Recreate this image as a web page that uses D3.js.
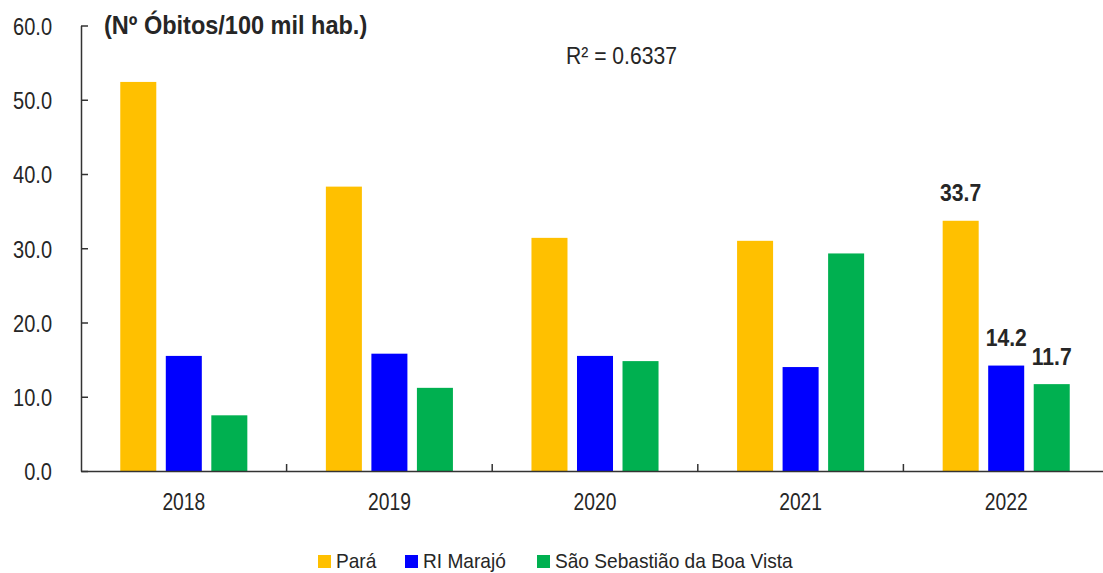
<!DOCTYPE html>
<html>
<head>
<meta charset="utf-8">
<script src="https://cdn.jsdelivr.net/npm/d3@7"></script>
<style>
  html, body { margin: 0; padding: 0; background: #fff; }
  svg { display: block; }
  text { font-family: "Liberation Sans", Arial, sans-serif; fill: #262626; }
</style>
</head>
<body>
<svg id="chart" width="1103" height="573"></svg>
<script>
// Taxa de óbitos por 100 mil habitantes
const years = ["2018", "2019", "2020", "2021", "2022"];
const seriesNames = ["Pará", "RI Marajó", "São Sebastião da Boa Vista"];
const para = [52.4, 38.3, 31.4, 31.0, 33.7];
const marajo = [15.5, 15.8, 15.5, 14.0, 14.2];
const ssbv = [7.5, 11.2, 14.8, 29.3, 11.7];
const colors = ["#FFC000", "#0000FF", "#00B050"];
const yTicks = [0, 10, 20, 30, 40, 50, 60];
const labelledYear = "2022";

const svg = d3.select("#chart");
const seriesValues = [para, marajo, ssbv];

// Narrow-looking type: squeeze each label horizontally by a factor
function condense(sel, sx) {
  sel.each(function () {
    const w = this.getComputedTextLength();
    d3.select(this).attr("textLength", w * sx).attr("lengthAdjust", "spacingAndGlyphs");
  });
}

const y = d3.scaleLinear().domain([0, 60]).range([471, 25.5]);
const x0 = d3.scaleBand().domain(years).range([81, 1109]).paddingInner(0.382).paddingOuter(0.191);
const x1 = d3.scaleBand().domain(seriesNames).range([0, x0.bandwidth()]).paddingInner(0.2088);

const rows = [];
years.forEach((yr, i) => {
  seriesNames.forEach((s, j) => {
    rows.push({ year: yr, series: s, value: seriesValues[j][i], color: colors[j] });
  });
});

// Bars
svg.append("g").selectAll("rect").data(rows).join("rect")
  .attr("x", d => x0(d.year) + x1(d.series))
  .attr("width", x1.bandwidth())
  .attr("y", d => y(d.value))
  .attr("height", d => y(0) - y(d.value))
  .attr("fill", d => d.color);

// Value labels for the last year
svg.append("g").selectAll("text").data(rows.filter(d => d.year === labelledYear)).join("text")
  .attr("x", d => x0(d.year) + x1(d.series) + x1.bandwidth() / 2)
  .attr("y", d => y(d.value) - 19.5)
  .attr("text-anchor", "middle")
  .attr("font-size", 24)
  .attr("font-weight", "bold")
  .text(d => d.value.toFixed(1))
  .call(condense, 0.88);

// Y axis
const yAxis = svg.append("g").attr("transform", "translate(81,0)")
  .call(d3.axisLeft(y).tickValues(yTicks).tickFormat(d3.format(".1f")).tickSizeInner(-7).tickSizeOuter(0).tickPadding(29));
yAxis.select(".domain").attr("stroke", "#333").attr("stroke-width", 1.5);
yAxis.selectAll(".tick line").attr("stroke", "#333").attr("stroke-width", 1.5);
yAxis.selectAll(".tick text").attr("font-size", 23).attr("font-family", null).attr("fill", "#262626")
  .attr("dy", "0.38em").call(condense, 0.87);

// X axis
const xAxis = svg.append("g").attr("transform", `translate(0,${y(0)})`)
  .call(d3.axisBottom(x0).tickSize(0).tickPadding(22));
xAxis.select(".domain").attr("stroke", "#333").attr("stroke-width", 1.5);
xAxis.selectAll(".tick text").attr("font-size", 23.5).attr("font-family", null).attr("fill", "#262626")
  .call(condense, 0.82);
// boundary ticks between categories, pointing up
const boundaries = years.slice(1).map(yr => x0(yr) - x0.step() * x0.paddingInner() / 2);
boundaries.push(x0(years[years.length - 1]) + x0.bandwidth() + x0.step() * x0.paddingInner() / 2);
xAxis.selectAll("line.boundary").data(boundaries).join("line")
  .attr("class", "boundary")
  .attr("x1", d => d).attr("x2", d => d)
  .attr("y1", 0).attr("y2", -7)
  .attr("stroke", "#333").attr("stroke-width", 1.5);

// Title
svg.append("text")
  .attr("x", 104).attr("y", 34)
  .attr("font-size", 25).attr("font-weight", "bold")
  .text("(Nº Óbitos/100 mil hab.)")
  .call(condense, 0.94);

// R² annotation
svg.append("text")
  .attr("x", 566).attr("y", 64)
  .attr("font-size", 24)
  .text("R² = 0.6337")
  .call(condense, 0.88);

// Legend
const legendX = [318, 405, 537];
const legend = svg.append("g").selectAll("g").data(seriesNames).join("g")
  .attr("transform", (d, i) => `translate(${legendX[i]},555)`);
legend.append("rect").attr("width", 13).attr("height", 13).attr("fill", (d, i) => colors[i]);
legend.append("text").attr("x", 18).attr("y", 13).attr("font-size", 21).text(d => d)
  .call(condense, 0.91);
</script>
</body>
</html>
